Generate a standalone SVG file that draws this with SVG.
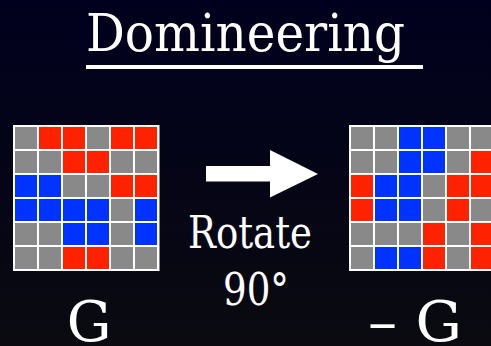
<svg xmlns="http://www.w3.org/2000/svg" width="491" height="346" viewBox="0 0 491 346">
<defs>
<linearGradient id="bg" x1="0" y1="0" x2="0" y2="1">
<stop offset="0" stop-color="#00001e"/>
<stop offset="1" stop-color="#0a0a10"/>
</linearGradient>
<style>
text{font-family:'DejaVu Serif','Liberation Serif',serif;fill:#ffffff}
.g{fill:#898989}
.r{fill:#ff2200}
.b{fill:#0033ff}
.f{fill:#ffffff}
</style>
</defs>
<rect x="0" y="0" width="491" height="346" fill="url(#bg)"/>
<g id="title">
<text x="86" y="51" font-size="53" textLength="319" lengthAdjust="spacingAndGlyphs">Domineering</text>
<rect class="f" x="86" y="65" width="337" height="4"/>
</g>
<g id="gridG">
<rect class="f" x="13" y="125" width="146.5" height="146"/>
<g transform="translate(15,127)">
<rect class="g" x="0" y="0" width="22" height="22"/><rect class="r" x="24" y="0" width="22" height="22"/><rect class="r" x="48" y="0" width="22" height="22"/><rect class="g" x="72" y="0" width="22" height="22"/><rect class="r" x="96" y="0" width="22" height="22"/><rect class="r" x="120" y="0" width="22" height="22"/>
<rect class="g" x="0" y="24" width="22" height="22"/><rect class="g" x="24" y="24" width="22" height="22"/><rect class="r" x="48" y="24" width="22" height="22"/><rect class="r" x="72" y="24" width="22" height="22"/><rect class="g" x="96" y="24" width="22" height="22"/><rect class="g" x="120" y="24" width="22" height="22"/>
<rect class="b" x="0" y="48" width="22" height="22"/><rect class="b" x="24" y="48" width="22" height="22"/><rect class="g" x="48" y="48" width="22" height="22"/><rect class="g" x="72" y="48" width="22" height="22"/><rect class="r" x="96" y="48" width="22" height="22"/><rect class="r" x="120" y="48" width="22" height="22"/>
<rect class="b" x="0" y="72" width="22" height="22"/><rect class="b" x="24" y="72" width="22" height="22"/><rect class="b" x="48" y="72" width="22" height="22"/><rect class="b" x="72" y="72" width="22" height="22"/><rect class="g" x="96" y="72" width="22" height="22"/><rect class="b" x="120" y="72" width="22" height="22"/>
<rect class="g" x="0" y="96" width="22" height="22"/><rect class="g" x="24" y="96" width="22" height="22"/><rect class="b" x="48" y="96" width="22" height="22"/><rect class="b" x="72" y="96" width="22" height="22"/><rect class="g" x="96" y="96" width="22" height="22"/><rect class="b" x="120" y="96" width="22" height="22"/>
<rect class="g" x="0" y="120" width="22" height="22"/><rect class="g" x="24" y="120" width="22" height="22"/><rect class="r" x="48" y="120" width="22" height="22"/><rect class="r" x="72" y="120" width="22" height="22"/><rect class="g" x="96" y="120" width="22" height="22"/><rect class="g" x="120" y="120" width="22" height="22"/>
</g>
</g>
<g id="gridNegG">
<rect class="f" x="349" y="125" width="146.5" height="146"/>
<g transform="translate(351,127)">
<rect class="g" x="0" y="0" width="22" height="22"/><rect class="g" x="24" y="0" width="22" height="22"/><rect class="b" x="48" y="0" width="22" height="22"/><rect class="b" x="72" y="0" width="22" height="22"/><rect class="g" x="96" y="0" width="22" height="22"/><rect class="g" x="120" y="0" width="22" height="22"/>
<rect class="g" x="0" y="24" width="22" height="22"/><rect class="g" x="24" y="24" width="22" height="22"/><rect class="b" x="48" y="24" width="22" height="22"/><rect class="b" x="72" y="24" width="22" height="22"/><rect class="g" x="96" y="24" width="22" height="22"/><rect class="r" x="120" y="24" width="22" height="22"/>
<rect class="r" x="0" y="48" width="22" height="22"/><rect class="b" x="24" y="48" width="22" height="22"/><rect class="b" x="48" y="48" width="22" height="22"/><rect class="g" x="72" y="48" width="22" height="22"/><rect class="r" x="96" y="48" width="22" height="22"/><rect class="r" x="120" y="48" width="22" height="22"/>
<rect class="r" x="0" y="72" width="22" height="22"/><rect class="b" x="24" y="72" width="22" height="22"/><rect class="b" x="48" y="72" width="22" height="22"/><rect class="g" x="72" y="72" width="22" height="22"/><rect class="r" x="96" y="72" width="22" height="22"/><rect class="g" x="120" y="72" width="22" height="22"/>
<rect class="g" x="0" y="96" width="22" height="22"/><rect class="g" x="24" y="96" width="22" height="22"/><rect class="g" x="48" y="96" width="22" height="22"/><rect class="r" x="72" y="96" width="22" height="22"/><rect class="g" x="96" y="96" width="22" height="22"/><rect class="r" x="120" y="96" width="22" height="22"/>
<rect class="g" x="0" y="120" width="22" height="22"/><rect class="b" x="24" y="120" width="22" height="22"/><rect class="b" x="48" y="120" width="22" height="22"/><rect class="r" x="72" y="120" width="22" height="22"/><rect class="g" x="96" y="120" width="22" height="22"/><rect class="r" x="120" y="120" width="22" height="22"/>
</g>
</g>
<g id="connectors">
<polygon class="f" points="206,166 270,166 270,150 318,174 270,197.5 270,181.5 206,181.5"/>
</g>
<g id="labels">
<text x="250" y="248" font-size="44" text-anchor="middle" textLength="124" lengthAdjust="spacingAndGlyphs">Rotate</text>
<text x="256" y="305" font-size="44" text-anchor="middle" textLength="66" lengthAdjust="spacingAndGlyphs">90°</text>
<text x="89" y="341" font-size="56" text-anchor="middle">G</text>
<text x="368" y="341" font-size="56" textLength="94" lengthAdjust="spacingAndGlyphs">– G</text>
</g>
</svg>
